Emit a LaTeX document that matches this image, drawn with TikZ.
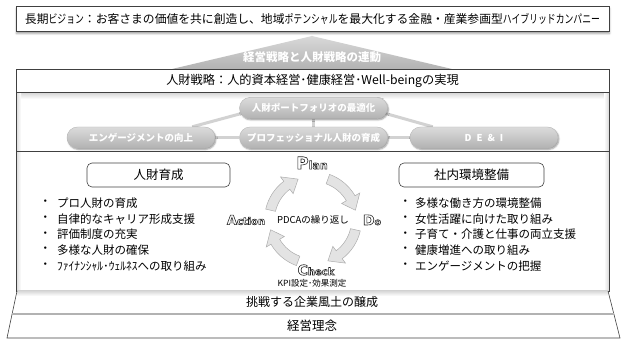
\documentclass[tikz,border=0pt]{standalone}
\usepackage{fontspec}
\setmainfont{Noto Sans CJK JP}
\newfontfamily\narrowkana{Noto Sans CJK JP}[FakeStretch=0.75]
\newfontfamily\pdcafont{DejaVu Sans}
\usetikzlibrary{positioning,shadows.blur,backgrounds}

\newcommand{\fsize}[1]{\fontsize{#1}{#1}\selectfont}
\newcommand{\nk}[1]{{\narrowkana #1}}
% outlined word: big first letter, smaller rest
\newcommand{\pdcaword}[4]{{\color{black!85}\pdcafont\bfseries
  \special{pdf:literal direct 1 Tr 0.6 w}\fsize{#1}#2\fsize{#3}#4\special{pdf:literal direct 0 Tr}}}
% curved block arrow of the cycle, clockwise from #1 to #2
\newcommand{\cyclearrow}[2]{%
  \filldraw[cyc] (#1:48.5) arc[start angle=#1, end angle=#2+17, radius=48.5]
    -- (#2+17:54) -- (#2:43.5) -- (#2+17:33) -- (#2+17:38.5)
    arc[start angle=#2+17, end angle=#1, radius=38.5] -- cycle;}

\begin{document}
\begin{tikzpicture}[x=1pt, y=1pt,
    frame/.style={draw=black!75, line width=0.6pt},
    bar/.style={frame, fill=white, minimum width=593pt, inner sep=0pt},
    pill/.style={draw=gray!55, rounded corners=10.5pt, minimum width=148pt, minimum height=21pt,
      top color=gray!28, bottom color=gray!60, text=white, inner sep=0pt, font=\bfseries\fsize{9.5},
      blur shadow={shadow xshift=1pt, shadow yshift=-1.5pt, shadow blur radius=1.5pt}},
    link/.style={gray!35, line width=3pt},
    tag/.style={frame, rounded corners=5pt, minimum height=24pt, inner sep=0pt, font=\fsize{12.5}},
    item/.style={anchor=west, inner sep=0pt, font=\fsize{11.5}},
    cyc/.style={draw=gray!65, line width=0.5pt, fill=gray!22},
    note/.style={inner sep=0pt, font=\fsize{9.5}}]
  \useasboundingbox (0,0) rectangle (624,340);

  % Big frame
  \shade[top color=gray!35, bottom color=white] (16,241) rectangle (609,248);
  \shade[left color=gray!30, right color=white] (16,49) rectangle (21,248);
  \shade[left color=white, right color=gray!30] (604,49) rectangle (609,248);
  \draw[frame] (16,49) rectangle (609,248);
  \draw[frame] (16,189) -- (609,189);

  % Link triangle
  \shade[top color=gray!30, bottom color=gray!60] (172,271) -- (312,304) -- (452,271) -- cycle;
  \node[text=white, font=\bfseries\fsize{11.5}] (link) at (312,283) {経営戦略と人財戦略の連動};

  % Vision and strategy
  \node[bar, minimum height=25pt, font=\fsize{11.8},
    blur shadow={shadow xshift=0.5pt, shadow yshift=-2.5pt, shadow blur radius=2pt}] (vision) at (312.5,321.5)
    {長期\nk{ビジョン}：お客さまの価値を共に創造し、地域\nk{ポテンシャル}を最大化する金融・産業参画型\nk{ハイブリッドカンパニー}};
  \node[bar, minimum height=23pt, font=\fsize{12.2}] (strategy) at (312.5,259.5)
    {人財戦略：人的資本経営･健康経営･Well-beingの実現};

  % Pillars
  \node[pill] (portfolio) at (313.5,232) {人財ポートフォリオの最適化};
  \node[pill] (engage) at (141,202.5) {エンゲージメントの向上};
  \node[pill] (pro) at (313.5,202.5) {プロフェッショナル人財の育成};
  \node[pill] (dei) at (484,202.5) {D\hspace{5pt}E\hspace{5pt}\&\hspace{5pt}I};
  \begin{pgfonlayer}{background}
    \draw[link] ([xshift=5pt, yshift=6pt]portfolio.south west) -- ([xshift=-23pt]engage.north east);
    \draw[link] ([xshift=-5pt, yshift=6pt]portfolio.south east) -- ([xshift=23pt]dei.north west);
    \draw[link] (portfolio) -- (pro);
    \draw[link] (engage) -- (pro) -- (dei);
  \end{pgfonlayer}

  % Two programs
  \node[tag, minimum width=143pt] (growth) at (158.5,165) {人財育成};
  \node[tag, minimum width=145pt] (workplace) at (471.5,165) {社内環境整備};
  \foreach \txt [count=\i] in {プロ人財の育成, 自律的なキャリア形成支援, 評価制度の充実,
      多様な人財の確保, ﾌｧｲﾅﾝｼｬﾙ･ｳｪﾙﾈｽへの取り組み} {
    \node[item] (gb\i) at (39.3, {152.8-15.75*\i}) {・};
    \node[item] (gi\i) at (57, {152.8-15.75*\i}) {\txt};
  }
  \foreach \txt [count=\i] in {多様な働き方の環境整備, 女性活躍に向けた取り組み,
      子育て・介護と仕事の両立支援, 健康増進への取り組み, エンゲージメントの把握} {
    \node[item] (wb\i) at (399.5, {152.8-15.75*\i}) {・};
    \node[item] (wi\i) at (415, {152.8-15.75*\i}) {\txt};
  }

  % PDCA cycle
  \node[note] (pdca) at (313,120) {PDCAの繰り返し};
  \begin{scope}[shift={(pdca.center)}]
    \cyclearrow{167}{110}
    \cyclearrow{70}{13}
    \cyclearrow{-13}{-70}
    \cyclearrow{-110}{-167}
  \end{scope}
  \node (plan) at (312,177) {\pdcaword{17}{P}{11}{lan}};
  \node (do) at (372,120) {\pdcaword{14}{D}{9.5}{o}};
  \node (action) at (246,120) {\pdcaword{13}{A}{10}{ction}};
  \node (check) at (316,70) {\pdcaword{14}{C}{10}{heck}};
  \node[note, font=\fsize{8.5}] (kpi) at (312,57) {KPI設定･効果測定};

  % Culture and philosophy
  \shade[top color=gray!30, bottom color=white] (17,44) rectangle (608,49);
  \draw[frame] (17,49) -- (7,2) -- (620,2) -- (608,49);
  \draw[gray!60, line width=1.2pt] (12.1,26) -- (613.9,26);
  \node[font=\fsize{12}] (culture) at (312,38) {挑戦する企業風土の醸成};
  \node[font=\fsize{12.5}] (philosophy) at (312,14) {経営理念};
\end{tikzpicture}
\end{document}
